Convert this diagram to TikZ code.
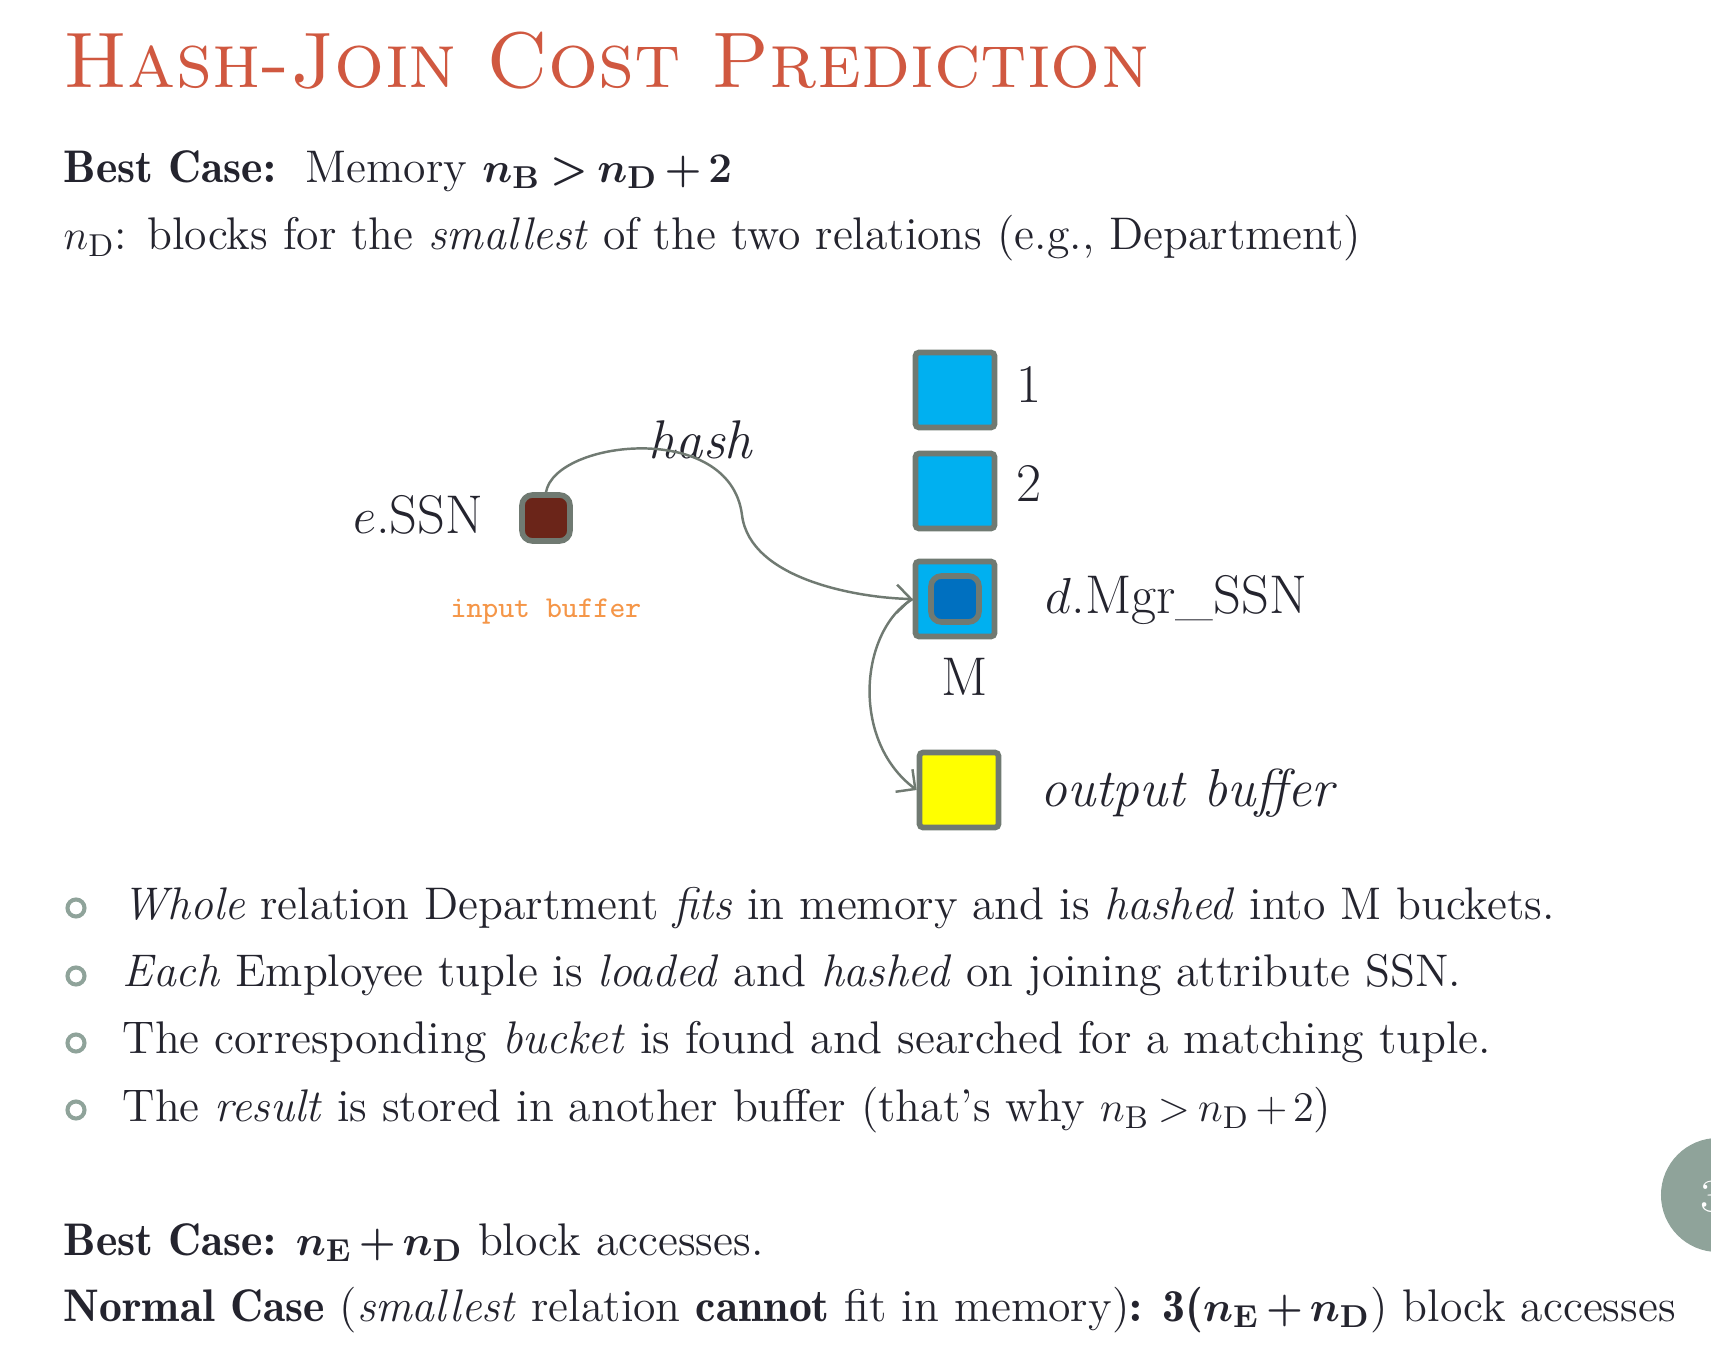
\documentclass[tikz,border=0pt]{standalone}
\usepackage{amsmath}
\usepackage{amssymb}
\usepackage{tikz}
\usetikzlibrary{arrows,arrows.meta,shapes,positioning}
\usepackage{xcolor}
\definecolor{hjred}{RGB}{208,88,64}
\definecolor{hjtext}{RGB}{36,36,46}
\definecolor{hjgray}{RGB}{112,122,114}
\definecolor{hjsage}{RGB}{143,163,154}
\definecolor{hjcyan}{RGB}{0,176,240}
\definecolor{hjblue}{RGB}{0,112,192}
\definecolor{hjbrown}{RGB}{107,37,25}
\definecolor{hjyellow}{RGB}{255,255,0}
\definecolor{hjorange}{RGB}{245,150,72}
\newcommand{\hjbody}{\fontsize{13}{16}\selectfont}
\newcommand{\hjlabel}{\fontsize{15.5}{18}\selectfont}
\newcommand{\hjbf}[1]{{\fontseries{b}\selectfont #1}}
\medmuskip=2.5mu plus 1mu minus 1mu
\thickmuskip=3.5mu plus 2mu
\tikzstyle{arrow} = [line width=0.7pt,-{Straight Barb[length=4pt,width=8pt]},color=hjgray]
\tikzstyle{bucket} = [rectangle, rounded corners=1pt, minimum width=0.79cm, minimum height=0.75cm, draw=hjgray, fill=hjcyan, line width=1.6pt, inner sep=0pt]
\tikzstyle{record} = [rectangle, rounded corners=3pt, minimum width=0.48cm, minimum height=0.46cm, draw=hjgray, line width=1.6pt, inner sep=0pt]
\tikzstyle{line} = [anchor=base west, inner sep=0pt, text=hjtext, font=\hjbody]
\tikzstyle{label} = [inner sep=0pt, text=hjtext, font=\hjlabel]
\tikzstyle{ring} = [circle, draw=hjsage, line width=1.15pt, minimum size=0.17cm, inner sep=0pt]

\begin{document}
\begin{tikzpicture}[x=0.01cm, y=-0.01cm]
\path[use as bounding box, fill=white] (0,0) rectangle (1711,1351);

% Heading
\node[anchor=base west, inner sep=0pt, text=hjred, font=\fontsize{22.4}{26}\selectfont\scshape] (title) at (63,87) {Hash-Join Cost Prediction};
\node[line] (memory) at (63,182) {\hjbf{Best Case:}\ \ Memory {\boldmath$n_{\mathrm{B}} > n_{\mathrm{D}} + 2$}};
\node[line] (smallest) at (63,249) {$n_{\mathrm{D}}$: blocks for the \textit{smallest} of the two relations (e.g., Department)};

% Buckets in memory
\node[bucket] (bucket1) at (955,390) {};
\node[bucket] (bucket2) at (955,491) {};
\node[bucket] (bucketm) at (955,599) {};
\node[record, fill=hjblue] (match) at (955,599) {};
\node[bucket, fill=hjyellow] (outbuf) at (959,790) {};
\node[record, fill=hjbrown] (inbuf) at (546,518) {};

% Labels
\node[label, anchor=west] (one) at (1016,384) {1};
\node[label, anchor=west] (two) at (1016,483) {2};
\node[label, anchor=west] (mgr) at (1045,600) {$d$.Mgr\_SSN};
\node[label] (mname) at (965,677) {M};
\node[label, anchor=west, font=\fontsize{15.2}{18}\selectfont] (outname) at (1040,793) {\textit{output buffer}};
\node[label, anchor=east] (essn) at (484,515) {$e$.SSN};
\node[inner sep=0pt, text=hjorange, font=\fontsize{8.6}{10}\selectfont\ttfamily] (inname) at (546,612) {input buffer};
\node[label] (hash) at (701,440) {\textit{hash}};

% Connectors
\draw[arrow] (inbuf.north) .. controls (555,440) and (730,420) .. (742,515)
  .. controls (750,580) and (860,598) .. (bucketm.west);
\draw[arrow] (bucketm.west) .. controls (860,630) and (850,740) .. (outbuf.west);

% Bullets
\node[ring] (bul1) at (76,908) {};
\node[ring] (bul2) at (76,976) {};
\node[ring] (bul3) at (76,1043) {};
\node[ring] (bul4) at (76,1110) {};
\node[line] (item1) at (122,919) {\textit{Whole} relation Department \textit{fits} in memory and is \textit{hashed} into M buckets.};
\node[line] (item2) at (122,986) {\textit{Each} Employee tuple is \textit{loaded} and \textit{hashed} on joining attribute SSN.};
\node[line] (item3) at (122,1053) {The corresponding \textit{bucket} is found and searched for a matching tuple.};
\node[line] (item4) at (122,1121) {The \textit{result} is stored in another buffer (that’s why $n_{\mathrm{B}} > n_{\mathrm{D}} + 2$)};

% Costs
\node[line] (best) at (63,1255) {\hjbf{Best Case:} {\boldmath$n_{\mathrm{E}} + n_{\mathrm{D}}$} block accesses.};
\node[line] (normal) at (63,1321) {\hjbf{Normal Case} (\textit{smallest} relation \hjbf{cannot} fit in memory)\hjbf{: 3(}{\boldmath$n_{\mathrm{E}} + n_{\mathrm{D}}$}) block accesses};

% Page number
\node[circle, fill=hjsage, minimum size=1.14cm, inner sep=0pt] (pagedot) at (1718,1195) {};
\node[anchor=west, inner sep=0pt, text=white, font=\hjbody] (pagenum) at (1700,1197) {3};
\end{tikzpicture}
\end{document}
